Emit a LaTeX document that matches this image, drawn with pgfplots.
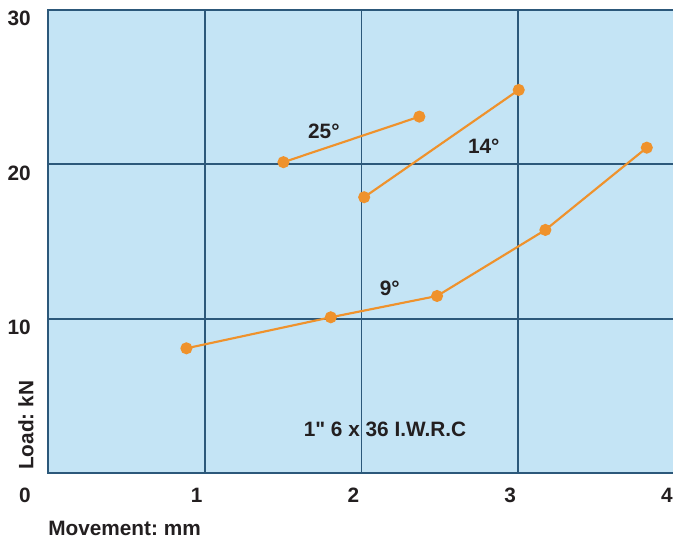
\documentclass[border=0pt]{standalone}
\usepackage{fontspec}
\setmainfont{Liberation Sans}[Ligatures=TeXOff]
\usepackage{pgfplots}
\pgfplotsset{compat=1.18}
\definecolor{bgblue}{HTML}{C4E4F5}
\definecolor{gridblue}{HTML}{2C587A}
\definecolor{lineor}{HTML}{EF922C}
\definecolor{txt}{HTML}{231F20}
\newcommand{\lbl}{\bfseries\fontsize{15.6}{18}\selectfont\frenchspacing}
\begin{document}
\frenchspacing
\begin{tikzpicture}
\useasboundingbox (0,0) rectangle (504.75pt,405pt);
\begin{axis}[
  at={(36pt,50.25pt)}, anchor=south west,
  scale only axis, width=470.25pt, height=347.25pt,
  xmin=0, xmax=4, ymin=0, ymax=30,
  axis background/.style={fill=bgblue},
  axis line style={draw=gridblue, line width=1.5pt},
  grid=major,
  major grid style={draw=gridblue, line width=1.3pt},
  xtick={1,2,3,4}, ytick={10,20,30},
  major tick length=0pt,
  /pgf/number format/assume math mode=true,
  xticklabel style={anchor=north east, inner sep=0pt, xshift=-1.5pt, yshift=-11.25pt, font=\lbl, text=txt},
  yticklabel style={anchor=north east, inner sep=0pt, xshift=-12.75pt, yshift=-0.75pt, font=\lbl, text=txt},
  clip=false,
]
\addplot[lineor, line width=1.6pt, mark=*, mark size=3.7pt, mark options={fill=lineor, draw=none}]
  coordinates {(1.502,20.14) (2.369,23.09)};
\addplot[lineor, line width=1.6pt, mark=*, mark size=3.7pt, mark options={fill=lineor, draw=none}]
  coordinates {(2.017,17.87) (3.003,24.82)};
\addplot[lineor, line width=1.6pt, mark=*, mark size=3.7pt, mark options={fill=lineor, draw=none}]
  coordinates {(0.883,8.08) (1.804,10.09) (2.482,11.47) (3.173,15.75) (3.82,21.08)};
\node[font=\lbl, text=txt] at (axis cs:1.76,22.16) {25°};
\node[font=\lbl, text=txt] at (axis cs:2.78,21.19) {14°};
\node[font=\lbl, text=txt] at (axis cs:2.18,11.99) {9°};
\node[font=\lbl, text=txt] at (axis cs:2.15,2.85) {1" 6 x 36 I.W.R.C};
\end{axis}
\node[font=\lbl, text=txt, anchor=north east, inner sep=0pt] at (23.25pt,39pt) {0};
\node[font=\lbl, text=txt, anchor=west, inner sep=0pt, rotate=90] at (19.5pt,52.5pt) {Load: kN};
\node[font=\lbl, text=txt, anchor=base west, inner sep=0pt] at (36pt,3.75pt) {Movement: mm};
\end{tikzpicture}
\end{document}
